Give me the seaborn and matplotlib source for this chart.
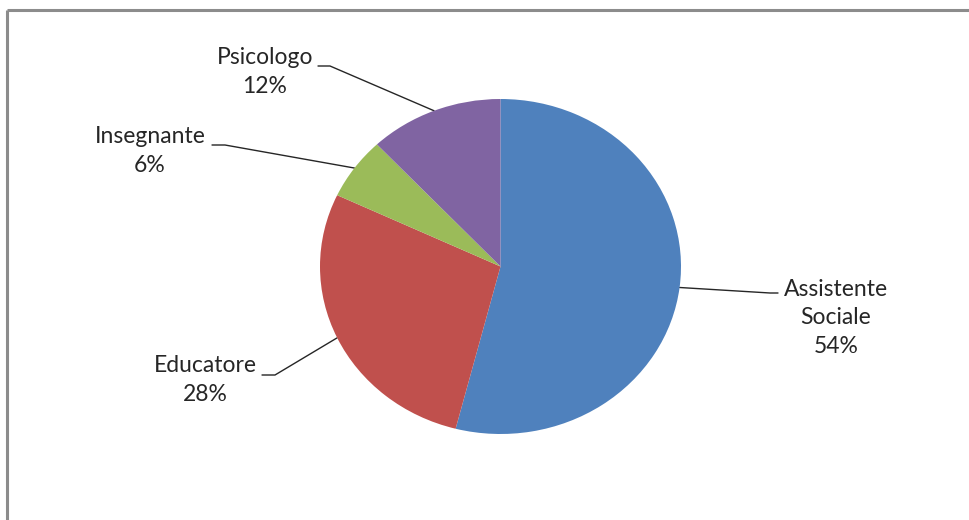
import numpy as np
import matplotlib
matplotlib.use("Agg")
import matplotlib.pyplot as plt
import seaborn as sns

# Data
categories = ["Assistente\nSociale", "Educatore", "Insegnante", "Psicologo"]
percentages = [54, 28, 6, 12]
colors = ["#4F81BD", "#C0504D", "#9BBB59", "#8064A2"]

sns.set_theme(style="white")
plt.rcParams["font.family"] = ["Lato", "DejaVu Sans"]

W, H = 969, 520
fig = plt.figure(figsize=(W / 100, H / 100), dpi=100)
fig.patch.set_facecolor("white")

# Overlay axes in pixel coordinates for labels, leader lines and frame
ov = fig.add_axes([0, 0, 1, 1])
ov.set_xlim(0, W)
ov.set_ylim(H, 0)
ov.axis("off")

# Pie geometry (pixels)
cx, cy, rx, ry = 500.5, 266.5, 180.5, 167.5
pie_ax = fig.add_axes([(cx - rx) / W, (H - cy - ry) / H, 2 * rx / W, 2 * ry / H])
pie_ax.pie(percentages, colors=colors, startangle=90, counterclock=False,
           radius=1.0, wedgeprops=dict(linewidth=0))
pie_ax.set_aspect("auto")
pie_ax.set_xlim(-1, 1)
pie_ax.set_ylim(-1, 1)
pie_ax.axis("off")

# Chart frame (top and left edges visible)
ov.plot([7, W], [10, 10], color="#8c8c8c", lw=2.2, solid_capstyle="butt", zorder=5)
ov.plot([7, 7], [10, H], color="#8c8c8c", lw=2.2, solid_capstyle="butt", zorder=5)

# Label placement: text center, elbow point, text-edge point
label_layout = {
    "Assistente\nSociale": dict(xy=(836, 318), elbow=(770, 293), end=(778, 293)),
    "Educatore": dict(xy=(205, 380), elbow=(275, 375), end=(262, 375)),
    "Insegnante": dict(xy=(150, 151), elbow=(225, 145), end=(212, 145)),
    "Psicologo": dict(xy=(265, 72), elbow=(330, 66), end=(318, 66)),
}

total = sum(percentages)
start = 90.0
for cat, pct in zip(categories, percentages):
    span = pct / total * 360.0
    mid = np.deg2rad(start - span / 2)
    start -= span
    ax_pt = (cx + rx * np.cos(mid), cy - ry * np.sin(mid))
    lay = label_layout[cat]
    ov.plot([ax_pt[0], lay["elbow"][0], lay["end"][0]],
            [ax_pt[1], lay["elbow"][1], lay["end"][1]],
            color="#262626", lw=1.0, zorder=6)
    ov.text(lay["xy"][0], lay["xy"][1], f"{cat}\n{pct}%", ha="center", va="center",
            fontsize=16.5, color="#262626", linespacing=1.42, zorder=7)

fig.savefig("out.png", dpi=100, facecolor="white")
